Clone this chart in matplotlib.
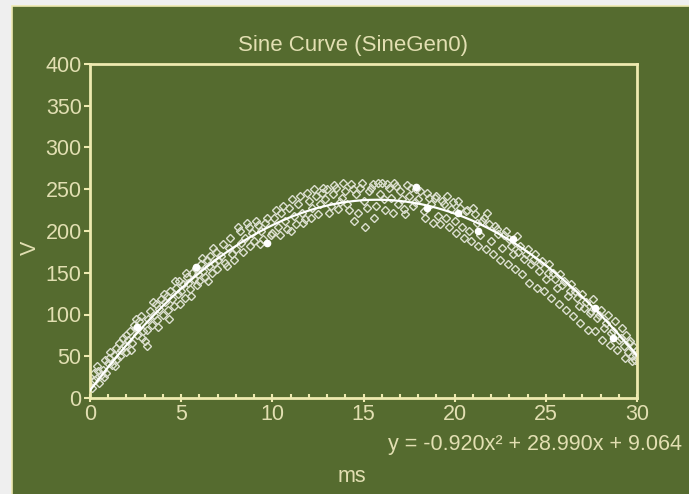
import numpy as np
import matplotlib
matplotlib.use("Agg")
import matplotlib.pyplot as plt
from matplotlib.patches import Rectangle
from matplotlib.ticker import AutoMinorLocator

plt.rcParams['font.family'] = ['Liberation Sans', 'DejaVu Sans']

title = "Sine Curve (SineGen0)"
x_label = "ms"
y_label = "V"

# scattered samples (ms, V) - first pass
sample_x = [0.1, 0.2, 0.3, 0.4, 0.5, 0.6, 0.7, 0.8, 0.9, 1.0, 1.1, 1.2, 1.3, 1.4, 1.5, 1.6, 1.7, 1.8, 1.9, 2.0,
            2.1, 2.2, 2.3, 2.4, 2.5, 2.6, 2.7, 2.8, 2.9, 3.0, 3.1, 3.2, 3.3, 3.4, 3.5, 3.6, 3.7, 3.8, 3.9, 4.0,
            4.1, 4.2, 4.3, 4.4, 4.5, 4.6, 4.7, 4.8, 4.9, 5.0, 5.1, 5.2, 5.3, 5.4, 5.5, 5.6, 5.7, 5.8, 5.9, 6.0,
            6.1, 6.2, 6.3, 6.4, 6.5, 6.6, 6.7, 6.8, 6.9, 7.0, 7.2, 7.4, 7.6, 7.8, 8.0, 8.2, 8.3, 8.5, 8.7, 8.9,
            9.0, 9.2, 9.4, 9.5, 9.6, 10.0, 10.1, 10.3, 10.5, 10.7, 10.9, 11.0, 11.2, 11.4, 11.6, 11.8, 12.0, 12.2, 12.4,
            12.5, 12.7, 12.9, 13.0, 13.2, 13.3, 13.5, 13.6, 13.8, 14.0, 14.1, 14.3, 14.5, 14.6, 14.8, 15.0, 15.1, 15.3, 15.5, 15.7,
            15.9, 16.0, 16.2, 16.4, 16.5, 16.7, 16.9, 17.0, 17.2, 17.4, 17.5, 17.7, 17.9, 18.0, 18.3, 18.5, 18.7, 18.9, 19.1, 19.3,
            19.5, 19.6, 19.8, 20.0, 20.2, 20.4, 20.6, 20.8, 21.0, 21.2, 21.4, 21.6, 21.8, 22.0, 22.2, 22.4, 22.6, 22.8, 23.0, 23.2,
            23.4, 23.6, 23.8, 24.0, 24.2, 24.4, 24.6, 24.8, 25.0, 25.2, 25.4, 25.6, 25.8, 26.0, 26.2, 26.4, 26.6, 26.8, 27.0, 27.2,
            27.4, 27.6, 27.8, 28.0, 28.2, 28.4, 28.6, 28.8, 29.0, 29.2, 29.3, 29.4, 29.5, 29.6, 29.7, 29.8, 29.9, 30.0]
sample_y = [12, 30, 22, 38, 18, 28, 34, 45, 30, 42, 55, 40, 52, 60, 47, 66, 58, 72, 62, 55,
            70, 80, 66, 88, 84, 76, 92, 98, 80, 68, 62, 95, 104, 88, 100, 112, 94, 107, 118, 100,
            115, 122, 105, 128, 118, 110, 132, 124, 140, 128, 136, 120, 145, 138, 130, 150, 142, 156, 148, 140,
            160, 152, 145, 165, 158, 170, 150, 162, 175, 165, 170, 162, 180, 172, 178, 200, 186, 192, 205, 198,
            188, 207, 200, 190, 210, 198, 215, 205, 222, 212, 228, 200, 218, 232, 222, 214, 236, 228, 242,
            220, 246, 238, 250, 230, 244, 252, 226, 240, 248, 232, 256, 212, 244, 252, 236, 205, 248, 256, 230,
            244, 258, 225, 252, 240, 258, 232, 248, 226, 255, 242, 230, 250, 238, 224, 246, 232, 240, 218, 236,
            215, 242, 226, 212, 236, 205, 224, 200, 228, 210, 195, 216, 222, 188, 206, 196, 180, 200, 190, 172,
            194, 182, 166, 178, 160, 172, 152, 164, 142, 160, 150, 132, 148, 140, 122, 136, 128, 110, 124, 115,
            102, 118, 96, 105, 84, 100, 78, 92, 70, 84, 62, 75, 55, 68, 50, 62, 46, 58]

# scattered samples (ms, V) - second pass
extra_x = [0.15, 0.45, 0.75, 1.05, 1.35, 1.65, 1.95, 2.25, 2.55, 2.85, 3.15, 3.45, 3.75, 4.05, 4.35, 4.65, 4.95,
           5.25, 5.55, 5.85, 6.15, 6.45, 6.75, 6.95, 7.3, 7.5, 7.7, 7.9, 8.1, 8.4, 8.6, 8.8, 9.1, 9.3, 9.7, 9.9,
           10.2, 10.4, 10.6, 10.8, 11.1, 11.3, 11.5, 11.7, 11.9, 12.1, 12.3, 12.6, 12.8, 13.1, 13.4, 13.7, 13.9,
           14.2, 14.4, 14.7, 14.9, 15.2, 15.4, 15.6, 15.8, 16.1, 16.3, 16.6, 16.8, 17.1, 17.3, 17.6, 17.8, 18.1,
           18.4, 18.6, 18.8, 19.0, 19.2, 19.4, 19.7, 19.9, 20.1, 20.3, 20.5, 20.7, 20.9, 21.1, 21.3, 21.5, 21.7,
           21.9, 22.1, 22.3, 22.5, 22.7, 22.9, 23.1, 23.3, 23.5, 23.7, 23.9, 24.1, 24.3, 24.5, 24.7, 24.9, 25.1,
           25.3, 25.5, 25.7, 25.9, 26.1, 26.3, 26.5, 26.7, 26.9, 27.1, 27.3, 27.5, 27.7, 27.9, 28.1, 28.3, 28.5,
           28.7, 28.9, 29.1, 29.35, 29.55, 29.75, 29.95]
extra_y = [20, 32, 25, 48, 38, 50, 75, 58, 95, 72, 82, 115, 85, 125, 95, 140, 112,
           150, 122, 135, 168, 140, 180, 155, 185, 158, 192, 165, 205, 175, 210, 182, 212, 185, 215, 195,
           225, 195, 230, 202, 238, 208, 242, 210, 245, 215, 250, 232, 252, 222, 255, 235, 257,
           225, 250, 222, 258, 228, 252, 215, 258, 238, 256, 222, 254, 238, 220, 252, 235, 248,
           215, 240, 210, 242, 208, 232, 205, 235, 198, 228, 192, 225, 188, 220, 182, 212, 178,
           208, 172, 202, 165, 195, 160, 182, 155, 175, 148, 172, 138, 165, 132, 160, 128, 150,
           120, 142, 112, 135, 105, 128, 98, 120, 90, 108, 82, 104, 80, 100, 70, 90, 64,
           80, 58, 72, 48, 66, 44, 52]

# highlighted points (white dots)
mark_x = [2.6, 5.8, 9.7, 17.9, 18.5, 20.2, 21.3, 23.2, 27.7, 28.7]
mark_y = [85, 157, 186, 253, 228, 222, 200, 190, 108, 72]

# fitted polynomial y = -0.920x^2 + 28.990x + 9.064
fit_coef = [-0.920, 28.990, 9.064]
equation = "y = -0.920x\u00b2 + 28.990x + 9.064"

x_ticks = [0, 5, 10, 15, 20, 25, 30]
y_ticks = [0, 50, 100, 150, 200, 250, 300, 350, 400]

olive = '#556b2f'
pale = '#eeeab0'
txt = '#e2dfb2'
fs = 15.5

W, H = 689, 494
fig = plt.figure(figsize=(6.89, 4.94), dpi=100, facecolor='#efefef')
fig.patches.append(Rectangle((12 / W, -0.05), 1.0, (H - 6) / H + 0.05,
                             transform=fig.transFigure, facecolor=olive,
                             edgecolor=pale, linewidth=1.2, zorder=-10))

ax = fig.add_axes([90 / W, (H - 398) / H, (637 - 90) / W, (398 - 64) / H])
ax.set_facecolor(olive)

mk = dict(linestyle='none', marker='D', markersize=3.8, markerfacecolor='none',
          markeredgecolor='#dcdfd0', markeredgewidth=1.0, zorder=2)
ax.plot(sample_x, sample_y, **mk)
ax.plot(extra_x, extra_y, **mk)

xf = np.linspace(0, 30, 300)
ax.plot(xf, np.polyval(fit_coef, xf), color='white', linewidth=1.6, zorder=3)
ax.plot(mark_x, mark_y, linestyle='none', marker='o', markersize=4.5,
        color='white', zorder=4)

ax.set_xlim(0, 30)
ax.set_ylim(0, 400)
ax.set_xticks(x_ticks)
ax.set_yticks(y_ticks)
ax.xaxis.set_minor_locator(AutoMinorLocator(5))

for s in ax.spines.values():
    s.set_color(pale)
    s.set_linewidth(2)

ax.tick_params(axis='x', which='major', direction='inout', length=6, width=1.5,
               colors=pale, labelcolor=txt, labelsize=fs, pad=1)
ax.tick_params(axis='x', which='minor', direction='in', length=3, width=1.5, colors=pale)
ax.tick_params(axis='y', which='major', direction='out', length=4, width=1.5,
               colors=pale, labelcolor=txt, labelsize=fs, pad=2)

fig.text(353 / W, 1 - 45 / H, title, color=txt, fontsize=16, ha='center', va='center')
fig.text(352 / W, 1 - 476 / H, x_label, color=txt, fontsize=fs, ha='center', va='center')
fig.text(30 / W, 1 - 248 / H, y_label, color=txt, fontsize=fs, ha='center', va='center',
         rotation=90)
fig.text(682 / W, 1 - 444 / H, equation, color=txt, fontsize=fs,
         ha='right', va='center')

fig.savefig('out.png', dpi=100, facecolor=fig.get_facecolor())
